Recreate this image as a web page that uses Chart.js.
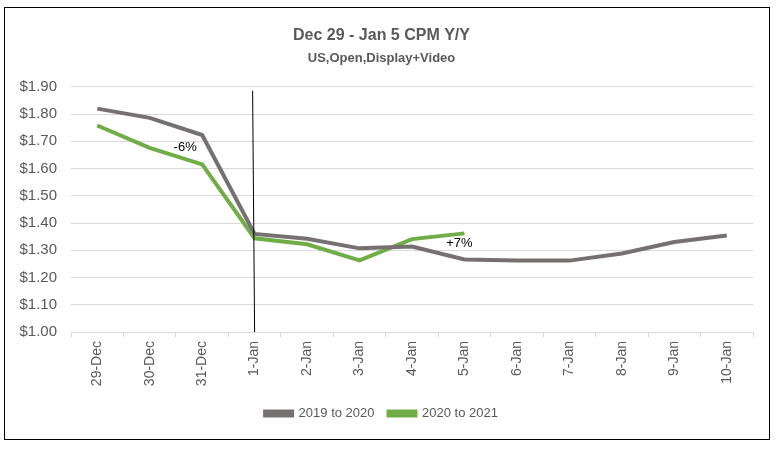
<!DOCTYPE html>
<html>
<head>
<meta charset="utf-8">
<script src="https://cdn.jsdelivr.net/npm/chart.js@4"></script>
<style>
  html, body { margin: 0; padding: 0; background: #fff; }
  #wrap { position: relative; width: 778px; height: 449px; }
  #frame { position: absolute; left: 4px; top: 7px; width: 766px; height: 433px; border: 1px solid #000; box-sizing: border-box; pointer-events: none; }
</style>
</head>
<body>
<div id="wrap">
  <canvas id="cpmChart" width="778" height="449"></canvas>
  <div id="frame"></div>
</div>
<script>
const days = ["29-Dec", "30-Dec", "31-Dec", "1-Jan", "2-Jan", "3-Jan", "4-Jan", "5-Jan", "6-Jan", "7-Jan", "8-Jan", "9-Jan", "10-Jan"];
const cpm2019 = [1.82, 1.786, 1.723, 1.36, 1.342, 1.307, 1.314, 1.266, 1.262, 1.262, 1.288, 1.33, 1.354];
const cpm2020 = [1.758, 1.676, 1.615, 1.344, 1.322, 1.263, 1.341, 1.362];
const yTicks = [1.0, 1.1, 1.2, 1.3, 1.4, 1.5, 1.6, 1.7, 1.8, 1.9];

// labels on the chart: [text, dataset index, point index, dx, dy]
const notes = [["-6%", 0, 2, -17, 12], ["+7%", 1, 7, -5, 10]];
const markerDay = "1-Jan";

const font = "'Liberation Sans', sans-serif";
const grey = "#595959";

// vertical marker + percent notes
const extras = {
    id: "extras",
    afterDatasetsDraw(chart) {
        const ctx = chart.ctx;
        const x = chart.scales.x;
        const y = chart.scales.y;
        const mx = x.getPixelForValue(days.indexOf(markerDay)) - 2;
        ctx.save();
        ctx.strokeStyle = "#000";
        ctx.lineWidth = 1;
        ctx.beginPath();
        ctx.moveTo(mx, y.getPixelForValue(1.885));
        ctx.lineTo(mx + 2, y.bottom);
        ctx.stroke();

        ctx.fillStyle = "#000";
        ctx.font = "13px " + font;
        ctx.textAlign = "center";
        ctx.textBaseline = "middle";
        notes.forEach(n => {
            const pt = chart.getDatasetMeta(n[1]).data[n[2]];
            ctx.fillText(n[0], pt.x + n[3], pt.y + n[4]);
        });
        ctx.restore();
    }
};

new Chart(document.getElementById("cpmChart"), {
    type: "line",
    data: {
        labels: days,
        datasets: [
            { label: "2019 to 2020", data: cpm2019, borderColor: "#767171", backgroundColor: "#767171", borderWidth: 4, pointRadius: 0, tension: 0 },
            { label: "2020 to 2021", data: cpm2020, borderColor: "#70AD47", backgroundColor: "#70AD47", borderWidth: 4, pointRadius: 0, tension: 0 }
        ]
    },
    options: {
        responsive: false,
        animation: false,
        layout: { padding: { top: 26, left: 10, right: 25, bottom: 19 } },
        plugins: {
            title: {
                display: true,
                text: "Dec 29 - Jan 5 CPM Y/Y",
                color: grey,
                font: { family: font, size: 16, weight: "bold" },
                padding: { top: 0, bottom: 5 }
            },
            subtitle: {
                display: true,
                text: "US,Open,Display+Video",
                color: grey,
                font: { family: font, size: 13, weight: "bold" },
                padding: { top: 0, bottom: 21 }
            },
            legend: {
                position: "bottom",
                labels: { color: grey, font: { family: font, size: 13 }, boxWidth: 27, boxHeight: 4, padding: 14 }
            },
            tooltip: { enabled: false }
        },
        scales: {
            x: {
                offset: true,
                afterFit: scale => { scale.height = 61; },
                grid: { display: true, drawOnChartArea: false, drawTicks: true, tickLength: 5, offset: true, color: "#d9d9d9" },
                border: { color: "#d9d9d9" },
                ticks: { color: grey, font: { family: font, size: 14 }, maxRotation: 90, minRotation: 90, autoSkip: false, padding: 4 }
            },
            y: {
                min: 1.0,
                max: 1.9,
                afterFit: scale => { scale.width = 61; },
                afterBuildTicks: scale => { scale.ticks = yTicks.map(v => ({ value: v })); },
                grid: { color: "#d9d9d9", drawTicks: false },
                border: { display: false },
                ticks: { color: grey, font: { family: font, size: 15 }, padding: 14, callback: v => "$" + Number(v).toFixed(2) }
            }
        }
    },
    plugins: [extras]
});
</script>
</body>
</html>
